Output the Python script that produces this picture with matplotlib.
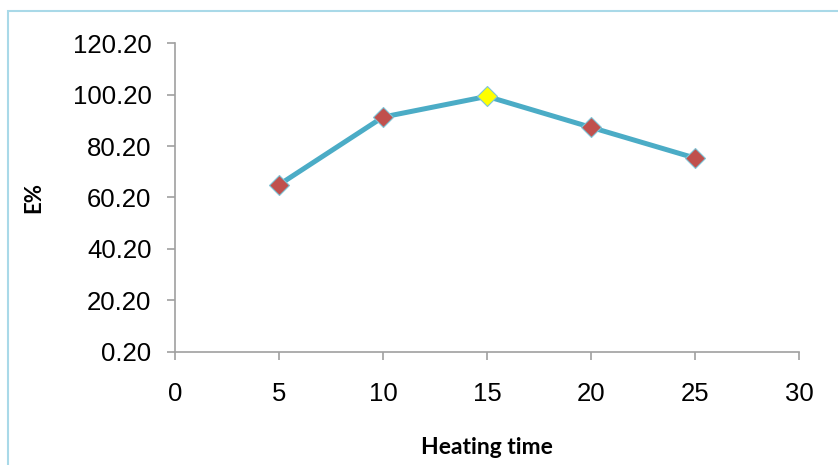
from matplotlib import pyplot as plt
from matplotlib.patches import Rectangle

heating_time = [5, 10, 15, 20, 25]
e_percent = [65.15, 91.5, 99.55, 87.5, 75.55]
x_ticks = [0, 5, 10, 15, 20, 25, 30]
y_ticks = [0.2, 20.2, 40.2, 60.2, 80.2, 100.2, 120.2]

marker_colors = ['#C0504D', '#C0504D', '#FFFF00', '#C0504D', '#C0504D']

plt.rcParams['font.family'] = ['Liberation Sans', 'DejaVu Sans']

fig = plt.figure(figsize=(8.38, 4.65), dpi=100)
fig.patches.append(Rectangle((8 / 838, -0.1), 1.1, 1 - 11 / 465 + 0.1,
                             transform=fig.transFigure, fill=False,
                             edgecolor='#A9D9E8', linewidth=1.5))

ax = fig.add_axes([175 / 838, 1 - 351.7 / 465, 624 / 838, 308.4 / 465])

ax.plot(heating_time, e_percent, color='#4BACC6', linewidth=3.6, zorder=2)
for x, y, c in zip(heating_time, e_percent, marker_colors):
    ax.plot(x, y, marker='D', markersize=10.5, markerfacecolor=c,
            markeredgecolor='#7FC4D6', markeredgewidth=0.8, zorder=3)

ax.set_xlim(0, 30)
ax.set_ylim(0.2, 120.2)
ax.set_xticks(x_ticks)
ax.set_yticks(y_ticks)
ax.set_yticklabels(['%.2f' % v for v in y_ticks])

for s in ['top', 'right']:
    ax.spines[s].set_visible(False)
for s in ['left', 'bottom']:
    ax.spines[s].set_color('#A0A0A0')
    ax.spines[s].set_linewidth(1.2)

ax.tick_params(axis='both', direction='out', length=6, width=1.2,
               color='#A0A0A0', labelsize=18.5, labelcolor='#000000')
ax.tick_params(axis='x', pad=16)
ax.tick_params(axis='y', pad=11)

ax.set_xlabel('Heating time', fontsize=16.5, fontweight='bold',
              family=['Lato', 'DejaVu Sans'], va='center')
ax.xaxis.set_label_coords(0.5, -0.31)
ax.set_ylabel('E%', fontsize=16, fontweight='bold',
              family=['Lato', 'DejaVu Sans'], va='center')
ax.yaxis.set_label_coords(-0.227, 0.5)

plt.savefig('out.png', dpi=100)
